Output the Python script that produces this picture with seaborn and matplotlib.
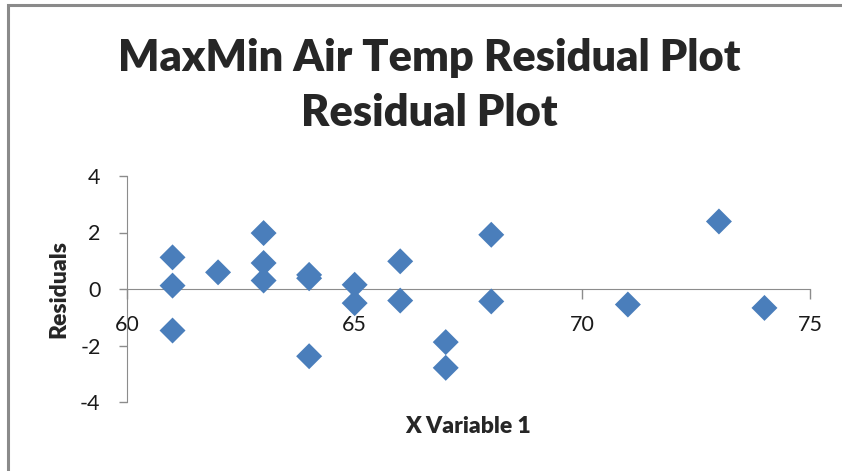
import pandas as pd
import numpy as np
import matplotlib
matplotlib.use("Agg")
import matplotlib.pyplot as plt
import seaborn as sns

# Residuals
x_var = [61, 61, 61, 62, 63, 63, 63, 64, 64, 64, 65, 65, 66, 66, 67, 67, 68, 68, 71, 73, 74]
residuals = [1.12, 0.12, -1.47, 0.59, 1.98, 0.92, 0.30, 0.50, 0.38, -2.38, 0.15, -0.50,
             0.98, -0.41, -1.88, -2.79, 1.92, -0.44, -0.55, 2.39, -0.67]
x_ticks = [60, 65, 70, 75]
y_ticks = [-4, -2, 0, 2, 4]

df = pd.DataFrame({"X Variable 1": x_var, "Residuals": residuals})

sns.set_style("white")
plt.rcParams["font.family"] = ["Lato", "DejaVu Sans"]

fig = plt.figure(figsize=(8.42, 4.71), dpi=100)
ax = fig.add_axes([127 / 842, 1 - 402 / 471, 683 / 842, 226 / 471])

sns.scatterplot(data=df, x="X Variable 1", y="Residuals", marker="D", s=175,
                color="#4A7EBB", edgecolor="none", ax=ax, clip_on=False, zorder=3)

ax.set_xlim(60, 75)
ax.set_ylim(-4, 4)
ax.set_xticks(x_ticks)
ax.set_yticks(y_ticks)
ax.set_xticklabels([str(t) for t in x_ticks])
ax.set_yticklabels([str(t) for t in y_ticks])

grey = "#8C8C8C"
ax.spines["top"].set_visible(False)
ax.spines["right"].set_visible(False)
ax.spines["left"].set_color(grey)
ax.spines["bottom"].set_color(grey)
ax.spines["bottom"].set_position(("data", 0))
ax.tick_params(axis="x", direction="out", length=7, width=1, color=grey,
               labelsize=15.5, labelcolor="#1a1a1a", pad=12, bottom=True)
ax.tick_params(axis="y", direction="out", length=6, width=1, color=grey,
               labelsize=15.5, labelcolor="#1a1a1a", pad=13, left=True)

ax.set_xlabel("X Variable 1", fontsize=16.5, fontweight="heavy")
ax.set_ylabel("Residuals", fontsize=16.5, fontweight="heavy")
ax.xaxis.set_label_coords(0.5, -0.06)
ax.yaxis.set_label_coords(-0.085, 0.5)

fig.text(0.51, 1 - 58 / 471, "MaxMin Air Temp Residual Plot", ha="center", va="center",
         fontsize=31.2, fontweight="heavy")
fig.text(0.51, 1 - 113 / 471, "Residual Plot", ha="center", va="center",
         fontsize=31.2, fontweight="heavy")

# chart frame (only left and top edges are visible in the crop)
frame = plt.Rectangle((8 / 842, -0.5), 2, 1.5 - 5 / 471, transform=fig.transFigure,
                      fill=False, edgecolor="#8A8A8A", linewidth=2.2)
fig.patches.append(frame)

fig.savefig("out.png", dpi=100)
